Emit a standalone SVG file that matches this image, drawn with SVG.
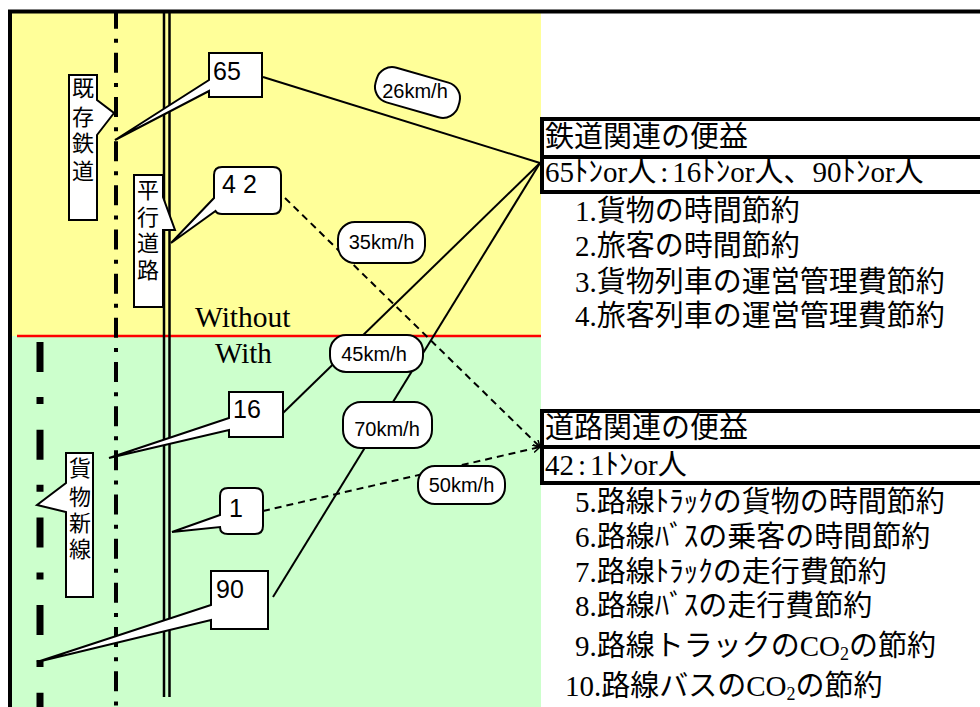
<svg xmlns="http://www.w3.org/2000/svg" width="980" height="707" viewBox="0 0 980 707">
<style>
.co{fill:#fff;stroke:#000;stroke-width:2;stroke-linejoin:miter}
.pill{fill:#fff;stroke:#000;stroke-width:2}
.ln{fill:none;stroke:#000;stroke-width:2}
.dl{fill:none;stroke:#000;stroke-width:2;stroke-dasharray:7 5}
.num{font-family:"Liberation Sans",Arial,sans-serif;font-size:25px;fill:#000}
.spd{font-family:"Liberation Sans",Arial,sans-serif;font-size:20px;fill:#000;text-anchor:middle}
.vt{font-family:"Noto Sans CJK JP",sans-serif;font-size:22px;fill:#000;text-anchor:middle}
.rt{font-family:"Liberation Serif","Noto Sans CJK JP",serif;font-size:29px;fill:#000}
.hw{font-family:"Noto Sans CJK JP",sans-serif}
.box{fill:#fff;stroke:#000;stroke-width:4}
</style>
<defs>
<marker id="ah" markerUnits="userSpaceOnUse" markerWidth="10" markerHeight="10" refX="7" refY="4" orient="auto">
<path d="M0,0 L7,4 L0,8" fill="none" stroke="#000" stroke-width="1.5"/>
</marker>
</defs>
<g id="background">
<rect x="12" y="13" width="529" height="323" fill="#FFFF99"/>
<rect x="12" y="336" width="529" height="371" fill="#CCFFCC"/>
<line x1="17" y1="336" x2="541" y2="336" stroke="#FF0000" stroke-width="2.5"/>
<path d="M10,707 V11.5 H980" fill="none" stroke="#000" stroke-width="4"/>
<text x="195" y="327" font-family="Liberation Serif,serif" font-size="29.5">Without</text>
<text x="215" y="363" font-family="Liberation Serif,serif" font-size="29">With</text>
</g>
<g id="tracks">
<line x1="116" y1="13" x2="116" y2="707" stroke="#000" stroke-width="4" stroke-dasharray="4 10 20 10.17" stroke-dashoffset="18.34"/>
<line x1="164" y1="13" x2="164" y2="697" stroke="#000" stroke-width="2.5"/>
<line x1="169.5" y1="13" x2="169.5" y2="697" stroke="#000" stroke-width="2.5"/>
<line x1="40" y1="342" x2="40" y2="707" stroke="#000" stroke-width="7" stroke-dasharray="30 25 7 25.7"/>
</g>
<g id="connectors">
<line class="ln" x1="263" y1="77" x2="540" y2="163"/>
<line class="ln" x1="283" y1="413" x2="540" y2="163"/>
<line class="ln" x1="273" y1="597" x2="540" y2="163"/>
<line class="dl" x1="285" y1="198" x2="540" y2="447" marker-end="url(#ah)"/>
<line class="dl" x1="263" y1="511" x2="540" y2="447" marker-end="url(#ah)"/>
</g>
<g id="speed-26">
<rect class="pill" x="-43" y="-18" width="86" height="36" rx="16" transform="translate(417.5,92.5) rotate(16)"/>
<text class="spd" x="415" y="98">26km/h</text>
</g>
<g id="speed-35">
<rect class="pill" x="338" y="222" width="87" height="41" rx="17"/>
<text class="spd" x="381.5" y="249">35km/h</text>
</g>
<g id="speed-45">
<rect class="pill" x="330" y="335" width="93" height="37" rx="16"/>
<text class="spd" x="374" y="361">45km/h</text>
</g>
<g id="speed-70">
<rect class="pill" x="343" y="402" width="89" height="46" rx="18"/>
<text class="spd" x="387" y="436">70km/h</text>
</g>
<g id="speed-50">
<rect class="pill" x="418" y="466" width="87" height="38" rx="17"/>
<text class="spd" x="461.5" y="492">50km/h</text>
</g>
<g id="label-existing-rail">
<path class="co" d="M69,75 H97 V100 L114,113 L97,135 V220 H69 Z"/>
<text class="vt"><tspan x="83" y="96">既</tspan><tspan x="83" y="125">存</tspan><tspan x="83" y="151">鉄</tspan><tspan x="83" y="179">道</tspan></text>
</g>
<g id="label-parallel-road">
<path class="co" d="M134,175 H163 V197 L175,230 H163 V307 H134 Z"/>
<text class="vt"><tspan x="148" y="198">平</tspan><tspan x="148" y="225">行</tspan><tspan x="148" y="251">道</tspan><tspan x="148" y="278">路</tspan></text>
</g>
<g id="label-new-freight">
<path class="co" d="M66,453 H93 V597 H66 V512 L37,505 L66,483 Z"/>
<text class="vt"><tspan x="80" y="476">貨</tspan><tspan x="80" y="505">物</tspan><tspan x="80" y="531">新</tspan><tspan x="80" y="557">線</tspan></text>
</g>
<g id="callout-65">
<path class="co" d="M209,53 H262 V97 H209 V91 L115,140 L209,80 Z"/>
<text class="num" x="213" y="80">65</text>
</g>
<g id="callout-42">
<path class="co" d="M222,167 H273 Q281,167 281,175 V206 Q281,214 273,214 H222 Q217,214 215.5,211 L171,243 L214,198 V175 Q214,167 222,167 Z"/>
<text class="num" x="222" y="193" font-size="22" letter-spacing="7">42</text>
</g>
<g id="callout-16">
<path class="co" d="M229,392 H283 V437 H229 V430 L109,458 L229,418 Z"/>
<text class="num" x="233" y="418">16</text>
</g>
<g id="callout-1">
<path class="co" d="M228,488 H255 Q263,488 263,496 V526 Q263,534 255,534 H228 Q220,534 220,527 L172,532 L220,515 V496 Q220,488 228,488 Z"/>
<text class="num" x="229" y="517">1</text>
</g>
<g id="callout-90">
<path class="co" d="M211,571 H268 V629 H211 V620 L37,662 L211,605 Z"/>
<text class="num" x="216" y="598">90</text>
</g>
<g id="rail-benefits">
<rect class="box" x="542" y="119" width="450" height="73"/>
<line x1="542" y1="157" x2="992" y2="157" stroke="#000" stroke-width="4"/>
<text class="rt" x="545" y="147">鉄道関連の便益</text>
<text class="rt" x="545" y="182">65<tspan class="hw">ﾄﾝ</tspan>or人<tspan dx="4">:</tspan><tspan dx="4">16</tspan><tspan class="hw">ﾄﾝ</tspan>or人、90<tspan class="hw">ﾄﾝ</tspan>or人</text>
<text class="rt" x="575" y="221">1.貨物の時間節約</text>
<text class="rt" x="575" y="256">2.旅客の時間節約</text>
<text class="rt" x="575" y="292">3.貨物列車の運営管理費節約</text>
<text class="rt" x="575" y="326">4.旅客列車の運営管理費節約</text>
</g>
<g id="road-benefits">
<rect class="box" x="542" y="411" width="450" height="72"/>
<line x1="542" y1="447" x2="992" y2="447" stroke="#000" stroke-width="4"/>
<text class="rt" x="545" y="438">道路関連の便益</text>
<text class="rt" x="545" y="475">42<tspan dx="4">:</tspan><tspan dx="4">1</tspan><tspan class="hw">ﾄﾝ</tspan>or人</text>
<text class="rt" x="575" y="512">5.路線<tspan class="hw">ﾄﾗｯｸ</tspan>の貨物の時間節約</text>
<text class="rt" x="575" y="547">6.路線<tspan class="hw">ﾊﾞｽ</tspan>の乗客の時間節約</text>
<text class="rt" x="575" y="582">7.路線<tspan class="hw">ﾄﾗｯｸ</tspan>の走行費節約</text>
<text class="rt" x="575" y="616">8.路線<tspan class="hw">ﾊﾞｽ</tspan>の走行費節約</text>
<text class="rt" x="575" y="656">9.路線トラックのCO<tspan font-size="18" dy="4">2</tspan><tspan dy="-4">の節約</tspan></text>
<text class="rt" x="565" y="696">10.路線バスのCO<tspan font-size="18" dy="4">2</tspan><tspan dy="-4">の節約</tspan></text>
</g>
</svg>
